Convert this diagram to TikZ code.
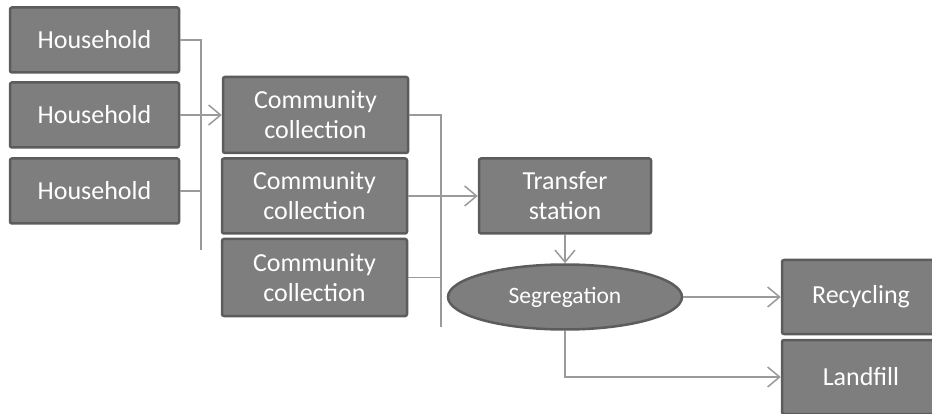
\documentclass[tikz,border=0pt]{standalone}
\usepackage{fontspec}
\setmainfont{Carlito}
\usetikzlibrary{arrows.meta,shapes.geometric}
\definecolor{boxfill}{HTML}{7E7E7E}
\definecolor{boxedge}{HTML}{5C5C5C}
\definecolor{wire}{HTML}{9A9A9A}
\tikzset{
  stagebox/.style={draw=boxedge, line width=2.5pt, fill=boxfill, rounded corners=2pt,
    inner sep=0pt, align=center, text=white,
    font=\fontsize{26}{30}\selectfont},
  ovalbox/.style={ellipse, draw=boxedge, line width=2.5pt, fill=boxfill,
    inner sep=0pt, text=white, font=\fontsize{23.5}{28}\selectfont},
  wireline/.style={draw=wire, line width=1.5pt},
  flow/.style={wireline, -{Straight Barb[length=12pt,width=20pt,line width=1.5pt]}}
}
\begin{document}
\begin{tikzpicture}[x=1pt,y=-1pt]
\useasboundingbox (0,0) rectangle (932,414);
% households
\node[stagebox, minimum width=169pt, minimum height=65pt] (h1) at (94.5,40) {Household};
\node[stagebox, minimum width=169pt, minimum height=65pt] (h2) at (94.5,115) {Household};
\node[stagebox, minimum width=169pt, minimum height=65pt] (h3) at (94.5,191) {Household};
% community collections
\node[stagebox, minimum width=185pt, minimum height=76pt] (c1) at (315.5,115) {Community\\collection};
\node[stagebox, minimum width=185pt, minimum height=75pt] (c2) at (314.5,196) {Community\\collection};
\node[stagebox, minimum width=185pt, minimum height=77pt] (c3) at (314.5,277.5) {Community\\collection};
% transfer
\node[stagebox, minimum width=172pt, minimum height=75pt] (t) at (565,196) {Transfer\\station};
% segregation
\node[ovalbox, minimum width=234pt, minimum height=65pt] (seg) at (565,297) {Segregation};
% outputs
\node[stagebox, minimum width=158pt, minimum height=74pt] (rec) at (861,297) {Recycling};
\node[stagebox, minimum width=158pt, minimum height=74pt] (land) at (861,377) {Landfill};
% buses
\coordinate (busA) at (201,250);
\coordinate (busB) at (441,327);
\draw[wireline] (h1.east) -| (busA);
\draw[wireline] (h3.east) -- (h3.east -| busA);
\draw[flow] (h2.east) -- (c1.west);
\draw[wireline] (c1.east) -| (busB);
\draw[wireline] (c3.east) -- (c3.east -| busB);
\draw[flow] (c2.east) -- (t.west);
\draw[flow] (t.south) -- (seg.north);
\draw[flow] (seg.east) -- (rec.west);
\draw[flow] (seg.south) |- (land.west);
\end{tikzpicture}
\end{document}
